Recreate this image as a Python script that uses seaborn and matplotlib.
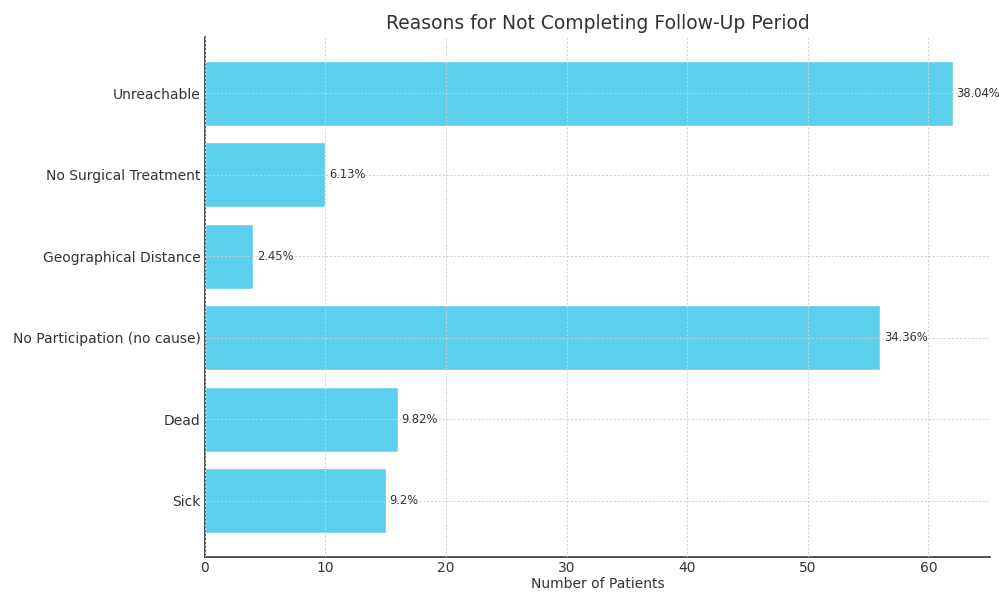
import pandas as pd
import seaborn as sns
import matplotlib.pyplot as plt

# datos
razones = ["Unreachable", "No Surgical Treatment", "Geographical Distance",
           "No Participation (no cause)", "Dead", "Sick"]
pacientes = [62, 10, 4, 56, 16, 15]
porcentajes = ["38.04%", "6.13%", "2.45%", "34.36%", "9.82%", "9.2%"]

df = pd.DataFrame({"Razon": razones, "Pacientes": pacientes})

sns.set_style("white")
plt.rcParams['font.family'] = ['DejaVu Sans']
plt.rcParams['text.color'] = '#333333'
plt.rcParams['axes.labelcolor'] = '#333333'
plt.rcParams['xtick.color'] = '#333333'
plt.rcParams['ytick.color'] = '#333333'

fig = plt.figure(figsize=(9.99, 5.92), dpi=100)
ax = fig.add_axes([0.205, 0.059, 0.786, 0.8785])

sns.barplot(data=df, x="Pacientes", y="Razon", order=razones, color="#5bcfec",
            saturation=1, width=0.8, ax=ax)

for i, (v, p) in enumerate(zip(pacientes, porcentajes)):
    ax.text(v + 0.3, i, p, va='center', ha='left', fontsize=8.3, color='#333333')

ax.set_title("Reasons for Not Completing Follow-Up Period", fontsize=13.5, pad=6)
ax.set_xlabel("Number of Patients", fontsize=10, labelpad=1)
ax.set_ylabel("")
ax.set_xlim(0, 65.1)
ax.set_ylim(5.69, -0.69)
ax.set_xticks([0, 10, 20, 30, 40, 50, 60])
ax.tick_params(axis='both', direction='in', labelsize=10, length=4, pad=3)

ax.grid(True, linestyle=(0, (2, 2)), color='#d0d0d0', linewidth=0.7)
ax.set_axisbelow(False)
for s in ['top', 'right']:
    ax.spines[s].set_visible(False)
for s in ['left', 'bottom']:
    ax.spines[s].set_color('#333333')
    ax.spines[s].set_linewidth(1.2)

plt.savefig("out.png", dpi=100)
